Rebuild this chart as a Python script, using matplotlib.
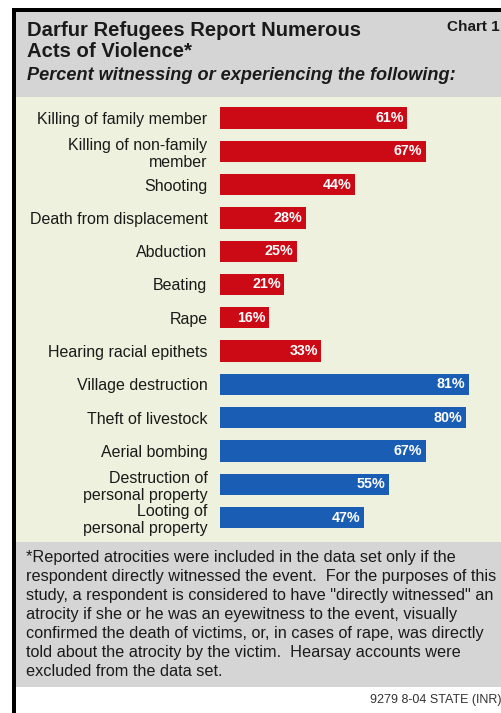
import matplotlib
matplotlib.use("Agg")
import matplotlib.pyplot as plt
from matplotlib.patches import Rectangle

categories = [
    "Killing of family member",
    "Killing of non-family\nmember",
    "Shooting",
    "Death from displacement",
    "Abduction",
    "Beating",
    "Rape",
    "Hearing racial epithets",
    "Village destruction",
    "Theft of livestock",
    "Aerial bombing",
    "Destruction of\npersonal property",
    "Looting of\npersonal property",
]
values = [61, 67, 44, 28, 25, 21, 16, 33, 81, 80, 67, 55, 47]
groups = ["person"] * 8 + ["property"] * 5
group_colors = {"person": "#cc0a16", "property": "#1a5db5"}

title_lines = ["Darfur Refugees Report Numerous", "Acts of Violence*"]
subtitle = "Percent witnessing or experiencing the following:"
chart_no = "Chart 1"
footnote_lines = [
    '*Reported atrocities were included in the data set only if the',
    'respondent directly witnessed the event.  For the purposes of this',
    'study, a respondent is considered to have "directly witnessed" an',
    'atrocity if she or he was an eyewitness to the event, visually',
    'confirmed the death of victims, or, in cases of rape, was directly',
    'told about the atrocity by the victim.  Hearsay accounts were',
    'excluded from the data set.',
]
source = "9279 8-04 STATE (INR)"

W, H = 501, 713
fig = plt.figure(figsize=(W / 100, H / 100), dpi=100)
plt.rcParams['font.family'] = ['Liberation Sans', 'DejaVu Sans']

bg = fig.add_axes([0, 0, 1, 1])
bg.set_xlim(0, W)
bg.set_ylim(H, 0)
bg.axis("off")

# panels
bg.add_patch(Rectangle((16, 12), W - 16, 85, color="#d5d5d5", lw=0))
bg.add_patch(Rectangle((16, 97), W - 16, 445, color="#eef1dd", lw=0))
bg.add_patch(Rectangle((16, 542), W - 16, 145, color="#d5d5d5", lw=0))
# black frame
bg.add_patch(Rectangle((12, 8), 4, H - 8, color="black", lw=0))
bg.add_patch(Rectangle((12, 8), W - 12, 4, color="black", lw=0))

for i, line in enumerate(title_lines):
    bg.text(27, 36 + 21 * i, line, fontsize=14.6, fontweight="bold",
            color="#1a1a1a", va="baseline", ha="left")
bg.text(27, 80, subtitle, fontsize=13.1, fontweight="bold", style="italic",
        color="#1a1a1a", va="baseline", ha="left")
bg.text(447, 31, chart_no, fontsize=11, fontweight="bold", color="#1a1a1a",
        va="baseline", ha="left")
for i, line in enumerate(footnote_lines):
    bg.text(26, 562 + 19.05 * i, line, fontsize=11.7, color="#1a1a1a",
            va="baseline", ha="left")
bg.text(370, 703, source, fontsize=9, color="#333333", va="baseline", ha="left")

# bar axes: x from 220 px to right edge; y covering cream panel
ax_left, ax_right = 220, W
ax_top, ax_bot = 97, 542
ax = fig.add_axes([ax_left / W, 1 - ax_bot / H, (ax_right - ax_left) / W,
                   (ax_bot - ax_top) / H])
ax.patch.set_alpha(0)
n = len(categories)
ypos = list(range(n))
colors = [group_colors[g] for g in groups]
ax.barh(ypos, values, height=0.64, color=colors, edgecolor="none")
px_per_unit = 3.07
ax.set_xlim(0, (ax_right - ax_left) / px_per_unit)
spacing = (517.5 - 118) / (n - 1)
ax.set_ylim((n - 1) + (ax_bot - 517.5) / spacing, -(118 - ax_top) / spacing)
for y, v in zip(ypos, values):
    ax.annotate(f"{v}%", (v, y), xytext=(-2.5, 0), textcoords="offset points",
                ha="right", va="center", color="white", fontsize=10.3,
                fontweight="bold")
ax.set_yticks(ypos)
ax.set_yticklabels(categories, fontsize=11.5, color="#1a1a1a", linespacing=1.2,
                   ha="right")
ax.tick_params(axis="y", length=0, pad=9)
ax.set_xticks([])
for s in ax.spines.values():
    s.set_visible(False)

fig.savefig("out.png", dpi=100)
